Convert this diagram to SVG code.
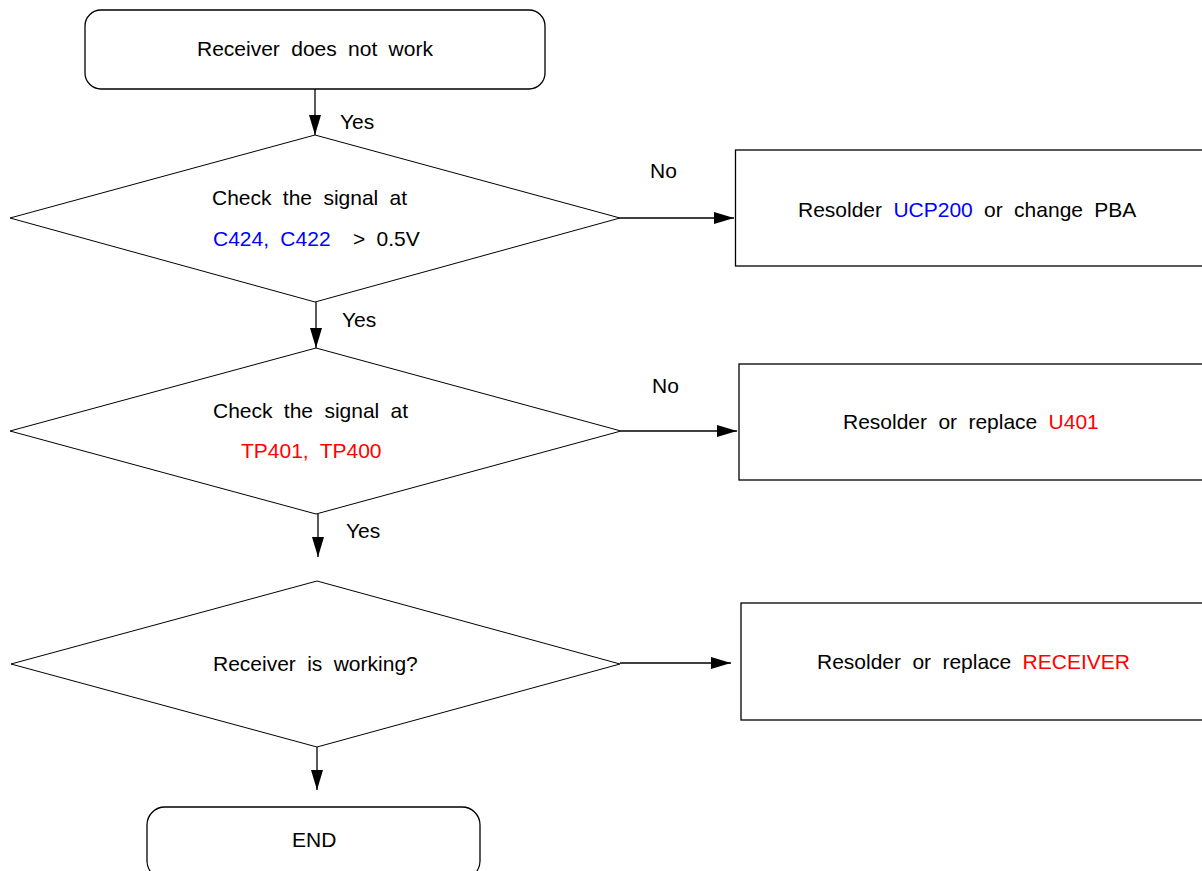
<svg xmlns="http://www.w3.org/2000/svg" width="1202" height="871" viewBox="0 0 1202 871">
<defs>
<marker id="arr" viewBox="0 0 20 12" refX="20" refY="6" markerWidth="20" markerHeight="12" markerUnits="userSpaceOnUse" orient="auto">
<path d="M0,0 L20,6 L0,12 Z" fill="#000"/>
</marker>
<style>
text{font-family:"Liberation Sans",Arial,sans-serif;font-size:21px;fill:#000;word-spacing:5.5px}
.box{fill:#fff;stroke:#000;stroke-width:1.3}
.dia{fill:#fff;stroke:#000;stroke-width:1}
.con{fill:none;stroke:#000;stroke-width:1.3;marker-end:url(#arr)}
.b{fill:#0000ff}
.r{fill:#ff0000}
</style>
</defs>
<rect width="1202" height="871" fill="#fff"/>
<g id="connectors">
<line class="con" x1="315" y1="89" x2="315" y2="135"/>
<line class="con" x1="316" y1="302" x2="316" y2="348"/>
<line class="con" x1="318" y1="514" x2="318" y2="557"/>
<line class="con" x1="317" y1="747" x2="317" y2="790"/>
<line class="con" x1="620" y1="218" x2="734" y2="218"/>
<line class="con" x1="621" y1="431" x2="737" y2="431"/>
<line class="con" x1="620" y1="663" x2="731" y2="663"/>
<text x="340" y="129">Yes</text>
<text x="342" y="327">Yes</text>
<text x="346" y="538">Yes</text>
<text x="650" y="178">No</text>
<text x="652" y="393">No</text>
</g>
<g id="start">
<rect class="box" x="85" y="10" width="460" height="79" rx="16" ry="16"/>
<text x="197" y="56">Receiver does not work</text>
</g>
<g id="check1">
<polygon class="dia" points="315,135 620,218 315,302 10,218"/>
<text x="212" y="205">Check the signal at</text>
<text x="213" y="246"><tspan class="b">C424, C422</tspan><tspan x="353">&gt; 0.5V</tspan></text>
</g>
<g id="fix1">
<rect class="box" x="735.5" y="150" width="480" height="116"/>
<text x="798" y="217">Resolder <tspan class="b">UCP200</tspan> or change PBA</text>
</g>
<g id="check2">
<polygon class="dia" points="316,348 621,431 316,514 10,431"/>
<text x="213" y="418">Check the signal at</text>
<text x="241" y="458" class="r">TP401, TP400</text>
</g>
<g id="fix2">
<rect class="box" x="739" y="364" width="480" height="116"/>
<text x="843" y="429">Resolder or replace <tspan class="r">U401</tspan></text>
</g>
<g id="check3">
<polygon class="dia" points="317,581 620,664 317,747 11,664"/>
<text x="213" y="671">Receiver is working?</text>
</g>
<g id="fix3">
<rect class="box" x="741" y="603" width="480" height="117"/>
<text x="817" y="669">Resolder or replace <tspan class="r">RECEIVER</tspan></text>
</g>
<g id="end">
<rect class="box" x="147" y="807" width="333" height="72" rx="18" ry="18"/>
<text x="292" y="847">END</text>
</g>
</svg>
